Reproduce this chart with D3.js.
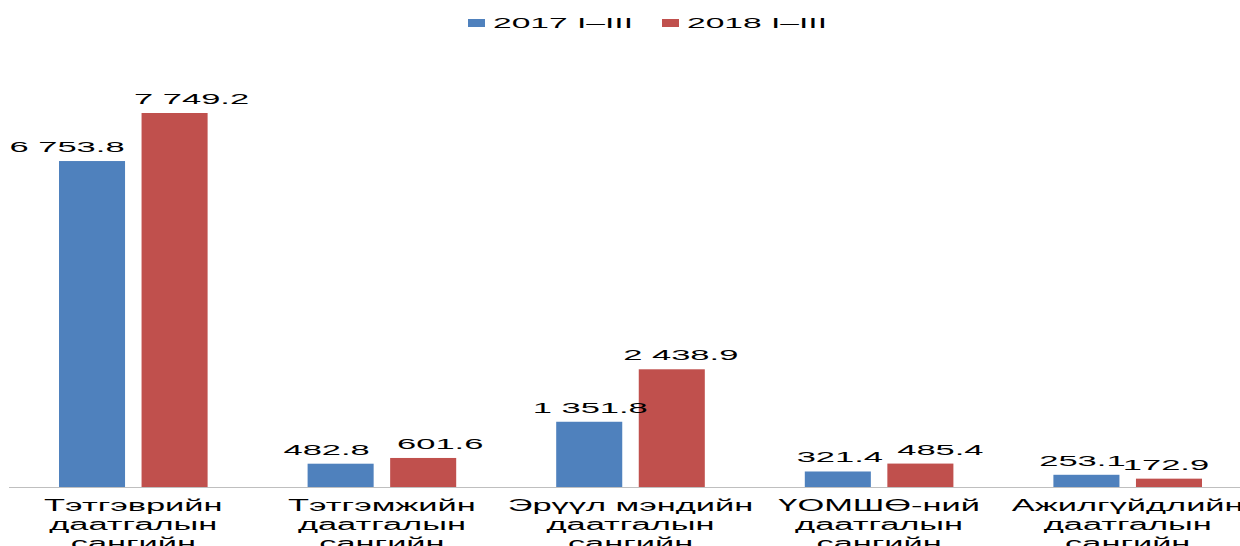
<!DOCTYPE html>
<meta charset="utf-8">
<style>
    body { margin: 0; background: #fff; }
    text { font-family: "Liberation Sans", Arial, sans-serif; fill: #000; }
</style>
<body>
<svg width="1240" height="546"></svg>
<script src="https://d3js.org/d3.v7.min.js"></script>
<script>

    // chart data
    var categories = [
        ["Тэтгэврийн", "даатгалын", "сангийн"],
        ["Тэтгэмжийн", "даатгалын", "сангийн"],
        ["Эрүүл мэндийн", "даатгалын", "сангийн"],
        ["ҮОМШӨ-ний", "даатгалын", "сангийн"],
        ["Ажилгүйдлийн", "даатгалын", "сангийн"]
    ];
    var seriesNames = ["2017 I–III", "2018 I–III"];
    var values2017 = [6753.8, 482.8, 1351.8, 321.4, 253.1];
    var values2018 = [7749.2, 601.6, 2438.9, 485.4, 172.9];
    var labels2017 = ["6 753.8", "482.8", "1 351.8", "321.4", "253.1"];
    var labels2018 = ["7 749.2", "601.6", "2 438.9", "485.4", "172.9"];
    var colors = ["#4f81bd", "#c0504d"];

    // hand-placed data labels in the original: nudge from bar centre
    var labelNudge = [[-25, -14, 1, 2, -4], [17, 17, 9, 20, -3]];

    var svg = d3.select("svg"),
        base = 487;

    var x0 = d3.scaleBand()
        .domain(d3.range(categories.length))
        .range([9, 1252])
        .paddingInner(0)
        .paddingOuter(0);

    var x1 = d3.scaleBand()
        .domain([0, 1])
        .range([50, x0.bandwidth() - 50])
        .paddingInner(0.2);

    var y = d3.scaleLinear()
        .domain([0, 7749.2])
        .range([base, 113]);

    var series = [values2017, values2018];
    var labels = [labels2017, labels2018];

    var groups = svg.selectAll(".grp")
        .data(categories)
        .enter().append("g")
        .attr("class", "grp")
        .attr("transform", function (d, i) { return "translate(" + x0(i) + ",0)"; });

    // bars first, then labels on top
    groups.each(function (d, i) {
        var g = d3.select(this);
        [0, 1].forEach(function (s) {
            var v = series[s][i];
            g.append("rect")
                .attr("x", x1(s))
                .attr("y", y(v))
                .attr("width", x1.bandwidth())
                .attr("height", base - y(v))
                .attr("fill", colors[s]);
        });
    });

    groups.each(function (d, i) {
        var g = d3.select(this);
        [0, 1].forEach(function (s) {
            var v = series[s][i];
            var cx = x1(s) + x1.bandwidth() / 2 + labelNudge[s][i];
            g.append("text")
                .attr("transform", "translate(" + cx + "," + (y(v) - 9) + ") scale(2.3,1)")
                .attr("text-anchor", "middle")
                .style("font-size", "15px")
                .text(labels[s][i]);
        });
        d.forEach(function (line, k) {
            g.append("text")
                .attr("transform", "translate(" + (x0.bandwidth() / 2) + "," + (511 + k * 19) + ") scale(2.15,1)")
                .attr("text-anchor", "middle")
                .style("font-size", "16px")
                .text(line);
        });
    });

    // axis line
    svg.append("line")
        .attr("x1", 9).attr("x2", 1252)
        .attr("y1", base + 0.5).attr("y2", base + 0.5)
        .attr("stroke", "#bfbfbf")
        .attr("stroke-width", 1);

    // legend
    var legX = [468, 662];
    seriesNames.forEach(function (name, s) {
        svg.append("rect")
            .attr("x", legX[s]).attr("y", 19)
            .attr("width", 17).attr("height", 8)
            .attr("fill", colors[s]);
        svg.append("text")
            .attr("transform", "translate(" + (legX[s] + 25) + ",28) scale(2.4,1)")
            .style("font-size", "14px")
            .text(name);
    });

</script>
</body>
